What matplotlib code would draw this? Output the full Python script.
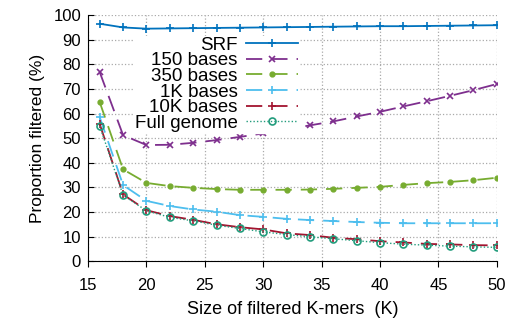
import numpy as np
import matplotlib.pyplot as plt

plt.rcParams['font.family'] = ['Liberation Sans', 'DejaVu Sans']

# data
k = [16, 18, 20, 22, 24, 26, 28, 30, 32, 34, 36, 38, 40, 42, 44, 46, 48, 50]
srf = [96.5, 95.0, 94.5, 94.6, 94.7, 94.8, 94.9, 95.0, 95.1, 95.2, 95.3, 95.4, 95.5, 95.5, 95.6, 95.7, 95.8, 95.9]
b150 = [76.8, 51.2, 47.2, 47.3, 48.1, 49.2, 50.5, 51.9, 53.5, 55.2, 56.8, 58.8, 60.7, 62.9, 65.0, 67.2, 69.5, 72.0]
b350 = [64.6, 37.3, 31.8, 30.5, 29.8, 29.3, 29.0, 29.0, 29.0, 29.1, 29.4, 29.8, 30.2, 31.0, 31.7, 32.2, 32.9, 33.9]
b1k = [58.5, 30.9, 24.5, 22.4, 21.0, 20.1, 18.7, 18.0, 17.2, 16.7, 16.3, 15.9, 15.6, 15.4, 15.4, 15.4, 15.4, 15.4]
b10k = [55.7, 27.1, 20.7, 18.3, 16.8, 15.0, 13.8, 12.9, 11.3, 10.6, 9.5, 8.9, 8.1, 7.6, 7.0, 6.8, 6.5, 6.4]
full = [54.9, 26.8, 20.5, 17.8, 16.4, 14.6, 13.3, 11.9, 10.8, 9.9, 9.1, 8.3, 7.5, 6.9, 6.5, 6.1, 5.8, 5.6]

fig = plt.figure(figsize=(5.09, 3.22), dpi=100)
ax = fig.add_axes([0.173, 0.189, 0.803, 0.764])

ax.plot(k, srf, color='#0072bd', lw=1.3, marker='+', ms=6, mew=1.2, label='SRF')
ax.plot(k, b150, color='#7e2f8e', lw=1.3, dashes=(9, 5), marker='x', ms=5, mew=1.2, label='150 bases')
ax.plot(k, b350, color='#77ac30', lw=1.3, dashes=(9, 5), marker='o', ms=3.5, label='350 bases')
ax.plot(k, b1k, color='#4dbeee', lw=1.3, dashes=(9, 5), marker='+', ms=6, mew=1.2, label='1K bases')
ax.plot(k, b10k, color='#a2142f', lw=1.3, dashes=(9, 5), marker='+', ms=6, mew=1.2, label='10K bases')
ax.plot(k, full, color='#229c7c', lw=1.0, ls=(0, (1, 1.5)), marker='o', ms=5, mfc='none', mew=1.2, label='Full genome')

ax.set_xlim(15, 50)
ax.set_ylim(0, 100)
ax.set_xticks(np.arange(15, 51, 5))
ax.set_yticks(np.arange(0, 101, 10))
ax.grid(True, color='#aaaaaa', ls=':', lw=0.9)
ax.set_axisbelow(True)
for s in ['top', 'right']:
    ax.spines[s].set_visible(False)
ax.tick_params(axis='y', direction='in', length=4, labelsize=12, pad=5)
ax.tick_params(axis='x', direction='out', length=4, labelsize=12, pad=8)
ax.set_xlabel('Size of filtered K-mers  (K)', fontsize=13, labelpad=6)
ax.set_ylabel('Proportion filtered (%)', fontsize=12.5, labelpad=6)

leg = ax.legend(loc='upper right', bbox_to_anchor=(0.54, 0.955), markerfirst=False, fontsize=13.5,
                frameon=True, framealpha=1, edgecolor='white', fancybox=False,
                labelspacing=-0.08, handlelength=2.8, handletextpad=0.45, borderpad=0.05)

fig.savefig('out.png', dpi=100)
